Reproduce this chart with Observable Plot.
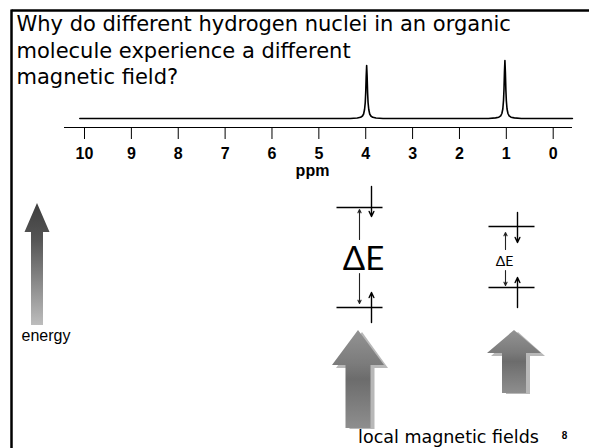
<!DOCTYPE html>
<html><head><meta charset="utf-8">
<script src="https://cdn.jsdelivr.net/npm/d3@7"></script>
<script src="https://cdn.jsdelivr.net/npm/@observablehq/plot@0.6"></script>
<style>
body{margin:0;background:#fff;}
#wrap{position:relative;width:589px;height:448px;overflow:hidden;background:#fff;}
#wrap svg{position:absolute;left:0;top:0;}
</style></head><body><div id="wrap"></div>
<script>
// ---- text ----
const titleLines = ["Why do different hydrogen nuclei in an organic", "molecule experience a different", "magnetic field?"];
const axisLabel = "ppm";
const energyLabel = "energy";
const deltaLabel = "ΔE";
const fieldLabel = "local magnetic fields";
const pageNumber = "8";

// ---- spectrum data ----
const ppmTicks = [10, 9, 8, 7, 6, 5, 4, 3, 2, 1, 0];
const specPpm = [10.1, 4.33, 4.18, 4.11, 4.07, 4.045, 4.025, 4.01, 4.0, 3.99, 3.98, 3.97, 3.96, 3.95, 3.935, 3.915, 3.89, 3.85, 3.78, 3.63,
                 1.38, 1.23, 1.16, 1.12, 1.095, 1.075, 1.06, 1.05, 1.04, 1.03, 1.02, 1.01, 1.0, 0.985, 0.965, 0.94, 0.9, 0.83, 0.68, -0.41];
const specIntensity = [0, 0, 0.5, 1.2, 2.5, 4.5, 9, 16, 26, 42, 53, 42, 26, 16, 9, 4.5, 2.5, 1.2, 0.5, 0,
                       0, 0.6, 1.3, 2.7, 5, 9.5, 18, 29, 46, 58, 46, 29, 18, 9.5, 5, 2.7, 1.3, 0.6, 0, 0];
const xDomain = [10.427, -0.412];
const yDomain = [-9, 58];

const arial = "'Liberation Sans', Arial, sans-serif";
const comic = "'Comic Sans MS', 'DejaVu Sans', sans-serif";

const wrap = document.getElementById("wrap");

// ---- spectrum ----
const spectrum = specPpm.map((p, i) => ({ppm: p, intensity: specIntensity[i]}));
const spec = Plot.plot({
  width: 589, height: 185,
  marginLeft: 64, marginRight: 17, marginTop: 60, marginBottom: 58,
  style: {background: "none", fontFamily: arial, fontSize: "16px", fontWeight: "bold", color: "black"},
  x: {domain: xDomain, ticks: ppmTicks, tickSize: 12, tickPadding: 8, tickFormat: d => String(d), label: null},
  y: {domain: yDomain, axis: null},
  marks: [
    Plot.ruleY([yDomain[0]], {stroke: "black", strokeWidth: 1.2}),
    Plot.line(spectrum, {x: "ppm", y: "intensity", stroke: "black", strokeWidth: 1.6}),
    Plot.text([axisLabel], {frameAnchor: "bottom", dy: 48, dx: -6, text: d => d, fontSize: 16, fontWeight: "bold", fill: "black"})
  ]
});
wrap.appendChild(spec);

// ---- illustration layer (pixel layout) ----
function arrowShape(id, s) {
  return [
    {id, y: s.tip, x1: s.cx, x2: s.cx},
    {id, y: s.headBase, x1: s.cx - s.headHalf, x2: s.cx + s.headHalf},
    {id, y: s.headBase, x1: s.cx - s.shaftHalf, x2: s.cx + s.shaftHalf},
    {id, y: s.bottom, x1: s.cx - s.shaftHalf, x2: s.cx + s.shaftHalf}
  ];
}
const energyArrow = arrowShape("e", {cx: 37, tip: 203, headBase: 232, headHalf: 12.5, shaftHalf: 6, bottom: 325});
const fieldSpecs = [
  {cx: 358, tip: 330, headBase: 365, headHalf: 26, shaftHalf: 12.5, bottom: 428},
  {cx: 514, tip: 330, headBase: 353, headHalf: 27, shaftHalf: 12, bottom: 393}
];
const fieldArrows = fieldSpecs.flatMap((s, i) => arrowShape("f" + i, s));
const fieldShadows = fieldSpecs.flatMap((s, i) => arrowShape("s" + i, {...s, cx: s.cx + 4, tip: s.tip + 2, headBase: s.headBase + 3, bottom: s.bottom + 1}));

const levels = [
  {x1: 336, x2: 382, y: 207}, {x1: 336, x2: 382, y: 307},
  {x1: 488, x2: 534, y: 226}, {x1: 488, x2: 534, y: 287}
];
const spins = [
  {x1: 371, y1: 186, x2: 371, y2: 216}, {x1: 371, y1: 322, x2: 371, y2: 292},
  {x1: 517, y1: 212, x2: 517, y2: 242}, {x1: 517, y1: 307, x2: 517, y2: 277}
];
const gaps = [
  {x1: 359, y1: 239, x2: 359, y2: 209}, {x1: 359, y1: 273, x2: 359, y2: 303},
  {x1: 505, y1: 249, x2: 505, y2: 232}, {x1: 505, y1: 270, x2: 505, y2: 285}
];
const frameLines = [{x1: 11, y1: 10, x2: 589, y2: 10}, {x1: 11, y1: 9, x2: 11, y2: 448}];

const over = Plot.plot({
  width: 589, height: 448, margin: 0,
  style: {background: "none"},
  x: {type: "identity", axis: null},
  y: {type: "identity", axis: null},
  marks: [
    Plot.link(frameLines, {x1: "x1", y1: "y1", x2: "x2", y2: "y2", stroke: "black", strokeWidth: 2.5}),
    Plot.text(titleLines, {x: 16, y: (d, i) => 24 + i * 26.5, text: d => d, textAnchor: "start", lineAnchor: "middle",
      fontSize: 21, fontFamily: comic, fill: "black"}),
    Plot.areaX(energyArrow, {y: "y", x1: "x1", x2: "x2", z: "id", fill: "url(#gEnergy)"}),
    Plot.text([energyLabel], {x: 21, y: 335, text: d => d, textAnchor: "start", lineAnchor: "middle",
      fontSize: 16, fontFamily: arial, fill: "black"}),
    Plot.link(levels, {x1: "x1", x2: "x2", y1: "y", y2: "y", stroke: "black", strokeWidth: 1.6}),
    Plot.arrow(spins, {x1: "x1", y1: "y1", x2: "x2", y2: "y2", stroke: "black", strokeWidth: 1.4, headLength: 6, headAngle: 50}),
    Plot.arrow(gaps, {x1: "x1", y1: "y1", x2: "x2", y2: "y2", stroke: "#222", strokeWidth: 1.1, headLength: 5, headAngle: 50}),
    Plot.text([deltaLabel], {x: 363, y: 259, text: d => d, fontSize: 33, fontFamily: "Lato, sans-serif", lineAnchor: "middle", fill: "black"}),
    Plot.text([deltaLabel], {x: 504, y: 261, text: d => d, fontSize: 14, fontFamily: "Lato, sans-serif", lineAnchor: "middle", fill: "black"}),
    Plot.areaX(fieldShadows, {y: "y", x1: "x1", x2: "x2", z: "id", fill: "#b8b8b8"}),
    Plot.areaX(fieldArrows, {y: "y", x1: "x1", x2: "x2", z: "id", fill: "url(#gField)"}),
    Plot.text([fieldLabel], {x: 448, y: 437, text: d => d, fontSize: 17.5, fontFamily: comic, lineAnchor: "middle", fill: "black"}),
    Plot.text([pageNumber], {x: 564, y: 435, text: d => d, fontSize: 10, fontWeight: "bold", fontFamily: arial, lineAnchor: "middle", fill: "black"})
  ]
});
const defs = d3.select(over).insert("defs", ":first-child");
const g1 = defs.append("linearGradient").attr("id", "gEnergy").attr("x1", 0).attr("y1", 0).attr("x2", 0).attr("y2", 1);
g1.append("stop").attr("offset", 0).attr("stop-color", "#3e3e3e");
g1.append("stop").attr("offset", 0.3).attr("stop-color", "#555");
g1.append("stop").attr("offset", 1).attr("stop-color", "#bdbdbd");
const g2 = defs.append("linearGradient").attr("id", "gField").attr("x1", 0).attr("y1", 0).attr("x2", 0).attr("y2", 1);
g2.append("stop").attr("offset", 0).attr("stop-color", "#939393");
g2.append("stop").attr("offset", 0.35).attr("stop-color", "#7b7b7b");
g2.append("stop").attr("offset", 0.5).attr("stop-color", "#6c6c6c");
g2.append("stop").attr("offset", 1).attr("stop-color", "#8e8e8e");
wrap.appendChild(over);
</script></body></html>
